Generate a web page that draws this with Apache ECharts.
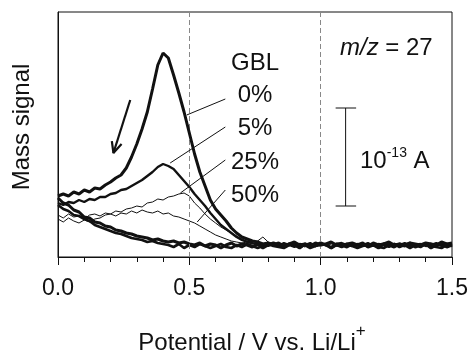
<!DOCTYPE html>
<html>
<head>
<meta charset="utf-8">
<script src="https://cdn.jsdelivr.net/npm/echarts@6/dist/echarts.min.js"></script>
<style>
    html, body { margin: 0; padding: 0; background: #fff; }
    #main { width: 472px; height: 357px; }
</style>
</head>
<body>
<div id="main"></div>
<script>
    // potential grid (V), step 0.02
    var xs = [0, 0.02, 0.04, 0.06, 0.08, 0.10, 0.12, 0.14, 0.16, 0.18,
        0.20, 0.22, 0.24, 0.26, 0.28, 0.30, 0.32, 0.34, 0.36, 0.38,
        0.40, 0.42, 0.44, 0.46, 0.48, 0.50, 0.52, 0.54, 0.56, 0.58,
        0.60, 0.62, 0.64, 0.66, 0.68, 0.70, 0.72, 0.74, 0.76, 0.78,
        0.80, 0.82, 0.84, 0.86, 0.88, 0.90, 0.92, 0.94, 0.96, 0.98,
        1.00, 1.02, 1.04, 1.06, 1.08, 1.10, 1.12, 1.14, 1.16, 1.18,
        1.20, 1.22, 1.24, 1.26, 1.28, 1.30, 1.32, 1.34, 1.36, 1.38,
        1.40, 1.42, 1.44, 1.46, 1.48, 1.50];

    // mass signal, arbitrary units (10 units = 1e-13 A)
    var gbl0 = [6.1, 6.3, 6.1, 6.5, 6.3, 6.7, 6.5, 6.9, 6.8, 7.2,
        7.5, 7.9, 8.2, 8.9, 10.0, 11.3, 12.8, 14.5, 16.8, 19.2,
        20.4, 19.9, 18.2, 16.4, 14.5, 12.4, 10.3, 8.5, 7.1, 5.7,
        4.8, 4.2, 3.6, 2.9, 2.4, 2.0, 1.8, 1.6, 1.5, 1.3,
        1.4, 1.2, 1.4, 1.1, 1.3, 1.5, 1.2, 1.3, 1.1, 1.4,
        1.2, 1.3, 1.5, 1.2, 1.1, 1.3, 1.4, 1.2, 1.3, 1.1,
        1.4, 1.2, 1.3, 1.5, 1.2, 1.3, 1.1, 1.4, 1.3, 1.2,
        1.4, 1.3, 1.2, 1.5, 1.3, 1.4];
    var gbl5 = [5.4, 5.2, 5.5, 5.4, 5.7, 5.5, 5.8, 5.7, 6.0, 6.0,
        6.3, 6.4, 6.7, 6.8, 7.1, 7.4, 7.7, 8.1, 8.5, 9.0,
        9.3, 9.1, 8.8, 8.2, 7.6, 7.0, 6.3, 5.7, 5.1, 4.4,
        3.8, 3.2, 2.8, 2.4, 2.0, 1.7, 1.5, 1.4, 1.2, 1.3,
        1.1, 1.3, 1.1, 1.4, 1.2, 1.0, 1.3, 1.2, 1.4, 1.1,
        1.3, 1.2, 1.0, 1.3, 1.4, 1.2, 1.1, 1.3, 1.2, 1.4,
        1.1, 1.3, 1.2, 1.0, 1.3, 1.2, 1.4, 1.1, 1.2, 1.3,
        1.1, 1.2, 1.4, 1.1, 1.2, 1.3];
    var gbl25 = [4.2, 3.9, 4.3, 4.0, 4.1, 3.8, 4.2, 4.3, 4.1, 4.4,
        4.3, 4.6, 4.5, 4.8, 4.9, 5.1, 5.0, 5.4, 5.5, 5.8,
        5.7, 6.0, 6.1, 6.3, 6.4, 6.1, 5.4, 4.9, 4.3, 3.8,
        3.4, 3.0, 2.7, 2.4, 2.1, 1.8, 1.6, 1.5, 1.6, 2.0,
        1.5, 1.3, 1.2, 1.4, 1.1, 1.3, 1.2, 1.0, 1.3, 1.2,
        1.4, 1.1, 1.3, 1.2, 1.0, 1.2, 1.3, 1.1, 1.4, 1.2,
        1.3, 1.1, 1.2, 1.4, 1.3, 1.1, 1.2, 1.3, 1.0, 1.2,
        1.3, 1.4, 1.1, 1.3, 1.2, 1.2];
    var gbl50 = [3.8, 3.5, 3.9, 3.6, 3.4, 3.7, 3.5, 3.8, 3.9, 4.2,
        4.3, 4.1, 4.4, 4.3, 4.6, 4.4, 4.7, 4.5, 4.4, 4.6,
        4.3, 4.4, 4.1, 4.0, 3.8, 3.6, 3.4, 3.1, 2.8, 2.5,
        2.2, 2.0, 1.8, 1.6, 1.5, 1.4, 1.5, 1.3, 1.4, 1.2,
        1.3, 1.1, 1.3, 1.2, 1.4, 1.2, 1.1, 1.3, 1.2, 1.0,
        1.3, 1.2, 1.4, 1.1, 1.2, 1.3, 1.2, 1.0, 1.3, 1.2,
        1.1, 1.3, 1.4, 1.2, 1.1, 1.3, 1.2, 1.4, 1.2, 1.1,
        1.3, 1.2, 1.3, 1.1, 1.4, 1.2];
    // return sweeps (thick band at the bottom)
    var backA = [5.9, 5.4, 5.2, 4.7, 4.5, 4.0, 3.9, 3.5, 3.4, 3.1,
        3.0, 2.7, 2.6, 2.4, 2.3, 2.1, 2.0, 1.9, 1.7, 1.8,
        1.6, 1.5, 1.6, 1.4, 1.5, 1.3, 1.2, 1.4, 1.1, 1.3,
        1.2, 0.9, 1.2, 1.4, 1.1, 1.3, 1.2, 1.0, 1.3, 0.9,
        1.2, 1.4, 1.2, 1.0, 1.3, 1.2, 0.9, 1.3, 1.1, 1.2,
        1.4, 1.2, 0.9, 1.3, 1.2, 1.0, 1.3, 1.2, 1.4, 1.0,
        1.2, 0.9, 1.3, 1.2, 1.0, 1.3, 1.2, 1.4, 1.0, 1.2,
        1.3, 0.9, 1.2, 1.3, 1.0, 1.2];
    var backB = [5.2, 4.8, 4.6, 4.2, 4.1, 3.8, 3.6, 3.2, 3.0, 2.8,
        2.6, 2.4, 2.3, 2.1, 1.9, 1.8, 1.7, 1.5, 1.6, 1.4,
        1.3, 1.2, 1.0, 1.3, 0.9, 1.2, 1.0, 1.3, 1.1, 0.9,
        1.1, 1.3, 1.0, 0.9, 1.2, 1.0, 1.3, 1.1, 0.9, 1.1,
        1.3, 1.1, 1.0, 0.9, 1.2, 1.3, 1.0, 1.2, 0.9, 1.1,
        1.2, 1.3, 0.9, 1.2, 1.0, 1.3, 1.1, 0.9, 1.1, 1.2,
        1.3, 1.0, 0.9, 1.2, 1.3, 1.0, 1.2, 0.9, 1.2, 1.0,
        1.3, 1.1, 1.0, 0.9, 1.2, 1.1];

    var xTicks = [0, 0.5, 1.0, 1.5];
    var guideLines = [0.5, 1.0];

    // annotations, in data units
    var leaderLines = [
        [[0.637, 15.8], [0.490, 14.2]],
        [[0.637, 13.0], [0.427, 9.4]],
        [[0.637, 9.7], [0.466, 6.4]],
        [[0.637, 6.7], [0.530, 3.5]]
    ];
    var arrowShaft = [[0.275, 15.7], [0.211, 10.4]];
    var arrowHead = [[0.242, 11.29], [0.211, 10.4], [0.205, 11.59]];
    var scaleBar = [[1.095, 5.1], [1.095, 14.9]];
    var scaleCapTop = [[1.057, 14.9], [1.135, 14.9]];
    var scaleCapBottom = [[1.057, 5.1], [1.135, 5.1]];

    var FONT = '"Liberation Sans", Arial, Helvetica, sans-serif';

    function pairs(vals) {
        return xs.map(function (x, i) { return [x, vals[i]]; });
    }

    function plain(pts, width, z) {
        return {
            type: 'line', data: pts, symbol: 'none', showSymbol: false, silent: true,
            lineStyle: { color: '#111', width: width }, z: z
        };
    }

    var first = plain(pairs(backB), 2.6, 2);
    first.markLine = {
        silent: true, symbol: 'none', label: { show: false },
        lineStyle: { color: '#888', type: [5, 3], width: 1 },
        data: guideLines.map(function (v) { return { xAxis: v }; })
    };

    var series = [
        first,
        plain(pairs(backA), 3, 2),
        plain(pairs(gbl50), 1, 3),
        plain(pairs(gbl25), 1, 3),
        plain(pairs(gbl5), 2.4, 4),
        plain(pairs(gbl0), 3, 5),
        plain(arrowShaft, 2.2, 6),
        plain(arrowHead, 2.2, 6),
        plain(scaleBar, 1, 6),
        plain(scaleCapTop, 1, 6),
        plain(scaleCapBottom, 1, 6)
    ];
    leaderLines.forEach(function (l) { series.push(plain(l, 1, 6)); });

    function txt(x, y, text, size, align) {
        return {
            type: 'text', x: x, y: y, z: 20,
            style: {
                text: text, font: size + 'px ' + FONT, fill: '#111',
                textAlign: align || 'center', textVerticalAlign: 'middle',
                align: align || 'center', verticalAlign: 'middle'
            }
        };
    }

    var chart = echarts.init(document.getElementById('main'), null, { renderer: 'canvas' });
    chart.setOption({
        animation: false,
        backgroundColor: '#fff',
        grid: { left: 58, right: 20, top: 12, bottom: 100, show: true, borderColor: '#111', borderWidth: 1 },
        xAxis: {
            type: 'value', min: 0, max: 1.5, interval: 0.5,
            axisLine: { show: true, lineStyle: { color: '#111', width: 1 } },
            axisTick: { show: true, length: 8, lineStyle: { color: '#111' } },
            minorTick: { show: true, splitNumber: 5, length: 5, lineStyle: { color: '#111' } },
            splitLine: { show: false },
            axisLabel: {
                margin: 20, fontSize: 23, color: '#111', fontFamily: FONT,
                formatter: function (v) { return xTicks.indexOf(v) >= 0 ? v.toFixed(1) : ''; }
            }
        },
        yAxis: {
            type: 'value', min: 0, max: 24.5,
            axisLine: { show: true, lineStyle: { color: '#111' } },
            axisTick: { show: false }, axisLabel: { show: false }, splitLine: { show: false }
        },
        graphic: [
            txt(255, 63, 'GBL', 24),
            txt(255, 95, '0%', 24),
            txt(255, 128, '5%', 24),
            txt(255, 162, '25%', 24),
            txt(255, 195, '50%', 24),
            {
                type: 'text', x: 340, y: 48, z: 20,
                style: {
                    text: '{i|m/z}{n| = 27}', fill: '#111',
                    textVerticalAlign: 'middle', verticalAlign: 'middle',
                    rich: {
                        i: { font: 'italic 24px ' + FONT, fill: '#111' },
                        n: { font: '24px ' + FONT, fill: '#111' }
                    }
                }
            },
            {
                type: 'text', x: 360, y: 161, z: 20,
                style: {
                    text: '{n|10}{s|-13}{n| A}', fill: '#111',
                    textVerticalAlign: 'middle', verticalAlign: 'middle',
                    rich: {
                        n: { font: '24px ' + FONT, fill: '#111', lineHeight: 30, verticalAlign: 'middle' },
                        s: { font: '14px ' + FONT, fill: '#111', lineHeight: 14, verticalAlign: 'top' }
                    }
                }
            },
            {
                type: 'text', x: 252, y: 343, z: 20,
                style: {
                    text: '{n|Potential / V vs. Li/Li}{s|+}', fill: '#111',
                    textAlign: 'center', align: 'center',
                    textVerticalAlign: 'middle', verticalAlign: 'middle',
                    rich: {
                        n: { font: '24px ' + FONT, fill: '#111', lineHeight: 40, verticalAlign: 'middle' },
                        s: { font: '17px ' + FONT, fill: '#111', lineHeight: 17, verticalAlign: 'top' }
                    }
                }
            },
            {
                type: 'text', x: 22, y: 127, rotation: Math.PI / 2, z: 20,
                style: {
                    text: 'Mass signal', font: '24px ' + FONT, fill: '#111',
                    textAlign: 'center', align: 'center',
                    textVerticalAlign: 'middle', verticalAlign: 'middle'
                }
            }
        ],
        series: series
    });
</script>
</body>
</html>
